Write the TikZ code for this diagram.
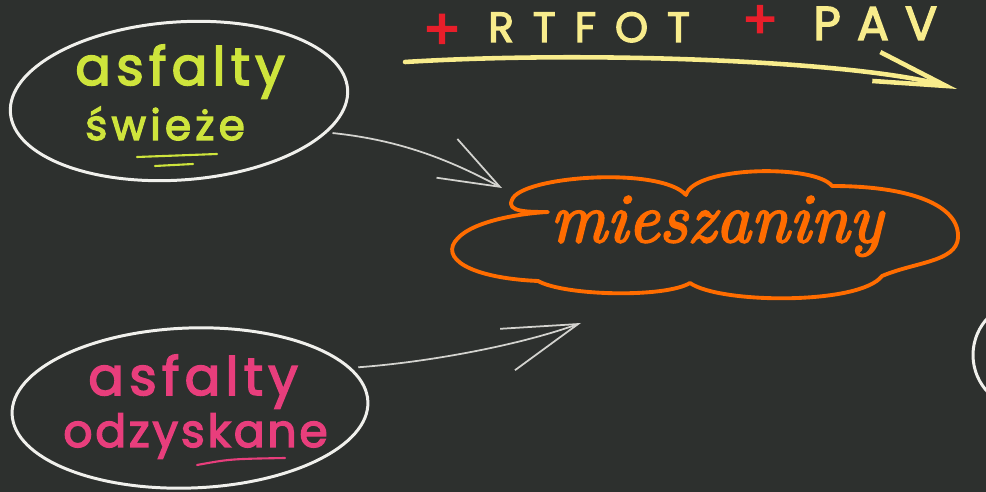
\documentclass[tikz,border=0pt]{standalone}
\usepackage{fontspec}
\usetikzlibrary{shapes.geometric,arrows.meta}
\newfontfamily\hand{Poppins}
\newfontfamily\cursive{Latin Modern Roman}[FakeBold=3]
\definecolor{board}{RGB}{45,48,46}
\definecolor{chalk}{RGB}{240,240,236}
\definecolor{lime}{RGB}{206,228,60}
\definecolor{rose}{RGB}{232,62,124}
\definecolor{mixorange}{RGB}{255,108,0}
\definecolor{pale}{RGB}{248,236,140}
\definecolor{plusred}{RGB}{232,30,42}

\begin{document}
\begin{tikzpicture}[x=0.02cm, y=-0.02cm,
    blob/.style={ellipse, draw=chalk, line width=1.7pt, inner sep=0pt},
    word/.style={anchor=base west, inner sep=0pt},
    hint/.style={draw=chalk!85!board, line width=1pt}]
\fill[board] (0,0) rectangle (986,492);
\clip (0,0) rectangle (986,492);

    % sources begin
    \node[blob, minimum width=338*0.02cm, minimum height=158*0.02cm, rotate=4] (fresh) at (179,101) {};
    \node[word, text=lime, font={\hand\fontsize{30pt}{30pt}\selectfont\addfontfeatures{LetterSpace=10,FakeBold=3}}] (freshA) at (75,85) {asfalty};
    \node[word, text=lime, font={\hand\fontsize{24pt}{24pt}\selectfont\addfontfeatures{LetterSpace=10,FakeBold=3}}] (freshB) at (85,140) {świeże};
    \draw[lime, line width=1.2pt, line cap=round] (137,157) -- (217,154);
    \draw[lime, line width=1.2pt, line cap=round] (155,166) -- (193,164);

    \node[blob, minimum width=356*0.02cm, minimum height=160*0.02cm, rotate=2] (reclaimed) at (190,408) {};
    \node[word, text=rose, font={\hand\fontsize{30pt}{30pt}\selectfont\addfontfeatures{LetterSpace=10,FakeBold=3}}] (reclaimedA) at (88,395) {asfalty};
    \node[word, text=rose, font={\hand\fontsize{26pt}{26pt}\selectfont\addfontfeatures{LetterSpace=6,FakeBold=3}}] (reclaimedB) at (63,447) {odzyskane};
    \draw[rose, line width=1.2pt, line cap=round] (197,465) .. controls (230,459) .. (285,458);
    % sources end

    % mix cloud begin
    \draw[mixorange, line width=2.2pt, line join=round]
        (512,200) .. controls (520,176) and (660,166) .. (686,195)
                  .. controls (694,166) and (815,164) .. (832,186)
                  .. controls (910,186) and (960,205) .. (958,238)
                  .. controls (956,262) and (915,262) .. (882,276)
                  .. controls (860,305) and (720,304) .. (690,283)
                  .. controls (665,298) and (565,296) .. (538,281)
                  .. controls (470,278) and (438,258) .. (458,238)
                  .. controls (475,220) and (525,213) .. (548,212)
                  .. controls (528,212) and (506,212) .. (512,200) -- cycle;
    \node[word, text=mixorange, font={\cursive\itshape\fontsize{40pt}{40pt}\selectfont}] (mix) at (550,242) {mieszaniny};
    % mix cloud end

    \coordinate (tipA) at (502,188);
    \coordinate (tipB) at (581,323);
    \draw[hint, shorten <=3pt, -{Straight Barb[length=1.2cm, width=0.88cm]}] (fresh.-16) .. controls (400,140) and (450,160) .. (tipA);
    \draw[hint, shorten <=4pt, -{Straight Barb[length=1.5cm, width=0.88cm]}] (reclaimed.12) .. controls (430,362) and (520,345) .. (tipB);

    % ageing steps
    \node[text=plusred, font={\hand\fontsize{32pt}{32pt}\selectfont\addfontfeatures{FakeBold=3}}] (plusA) at (442,32) {+};
    \node[word, text=pale, font={\hand\fontsize{24pt}{24pt}\selectfont\addfontfeatures{LetterSpace=45,FakeBold=3}}] (rtfot) at (488,42) {RTFOT};
    \node[text=plusred, font={\hand\fontsize{30pt}{30pt}\selectfont\addfontfeatures{FakeBold=3}}] (plusB) at (760,22) {+};
    \node[word, text=pale, font={\hand\fontsize{27pt}{27pt}\selectfont\addfontfeatures{LetterSpace=34,FakeBold=3}}] (pav) at (813,40) {PAV};

    \coordinate (trackL) at (405,62);
    \coordinate (trackR) at (957,89);
    \draw[pale, line width=2.6pt, line cap=round, -{Straight Barb[length=1.45cm, width=0.6cm]}] (trackL) .. controls (600,50) and (860,62) .. (trackR);

    % next step, off the board
    \draw[chalk, line width=1.7pt] (1027,355) circle[radius=54];
\end{tikzpicture}
\end{document}
